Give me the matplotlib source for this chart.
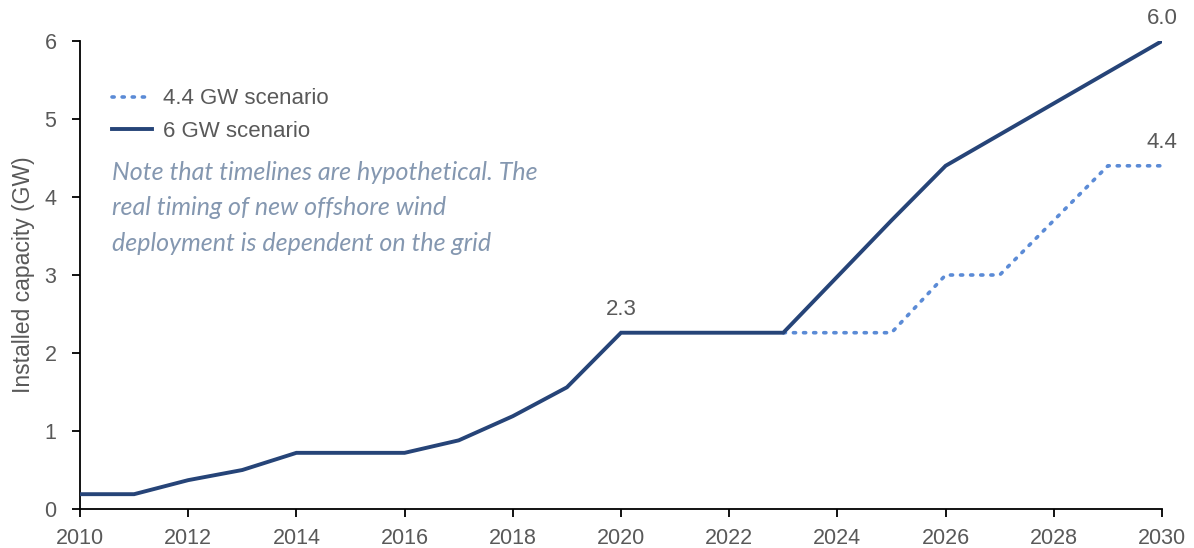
import matplotlib
matplotlib.use("Agg")
import matplotlib.pyplot as plt
from matplotlib.lines import Line2D

years = list(range(2010, 2031))
gw6 = [0.19, 0.19, 0.37, 0.50, 0.72, 0.72, 0.72, 0.88, 1.19, 1.56, 2.26,
       2.26, 2.26, 2.26, 2.98, 3.70, 4.40, 4.80, 5.20, 5.60, 6.00]
years_44 = list(range(2023, 2031))
gw44 = [2.26, 2.26, 2.26, 3.00, 3.00, 3.70, 4.40, 4.40]

labels = [(2020, 2.26, "2.3"), (2030, 6.0, "6.0"), (2030, 4.4, "4.4")]
series_names = ["4.4 GW scenario", "6 GW scenario"]
note = "Note that timelines are hypothetical. The\nreal timing of new offshore wind\ndeployment is dependent on the grid"

plt.rcParams['font.family'] = ['Liberation Sans', 'DejaVu Sans']
gray = "#595959"
navy = "#264478"
light = "#5B8BD6"

fig = plt.figure(figsize=(11.94, 5.48), dpi=100)
ax = fig.add_axes([80/1194, 39/548, (1162-80)/1194, (509-41)/548])

ax.plot(years_44, gw44, color=light, lw=2.6, linestyle=(0, (0.6, 2.2)),
        dash_capstyle='round', solid_capstyle='round', zorder=2)
ax.plot(years, gw6, color=navy, lw=2.8, solid_joinstyle='miter', zorder=3)

for x, y, t in labels:
    ax.annotate(t, (x, y), xytext=(0, 9), textcoords='offset points',
                ha='center', va='bottom', fontsize=16, color=gray)

ax.set_xlim(2010, 2030)
ax.set_ylim(0, 6)
ax.set_xticks(range(2010, 2031, 2))
ax.set_yticks(range(0, 7))
for s in ['top', 'right']:
    ax.spines[s].set_visible(False)
for s in ['left', 'bottom']:
    ax.spines[s].set_color('black')
    ax.spines[s].set_linewidth(1.3)
ax.tick_params(axis='both', direction='out', length=6, width=1.3, color='black',
               labelcolor=gray, labelsize=15.5)
ax.tick_params(axis='y', pad=11)
ax.tick_params(axis='x', pad=8)
ax.set_ylabel("Installed capacity (GW)", fontsize=16.5, color=gray, labelpad=7)

handles = [Line2D([], [], color=light, lw=2.6, linestyle=(0, (0.6, 2.2)), dash_capstyle='round'),
           Line2D([], [], color=navy, lw=2.8)]
leg = ax.legend(handles, series_names, loc='center left', bbox_to_anchor=(32/1082, (509-115)/468),
                frameon=False, fontsize=16, handlelength=1.8, handletextpad=0.5,
                labelspacing=0.5, borderaxespad=0, borderpad=0)
for t in leg.get_texts():
    t.set_color(gray)

fig.text(112/1194, 1 - 161/548, note, fontsize=18, style='italic', color="#8497B0",
         family=['Lato', 'DejaVu Sans'], va='top', ha='left', linespacing=1.65)

fig.savefig("out.png", dpi=100)
